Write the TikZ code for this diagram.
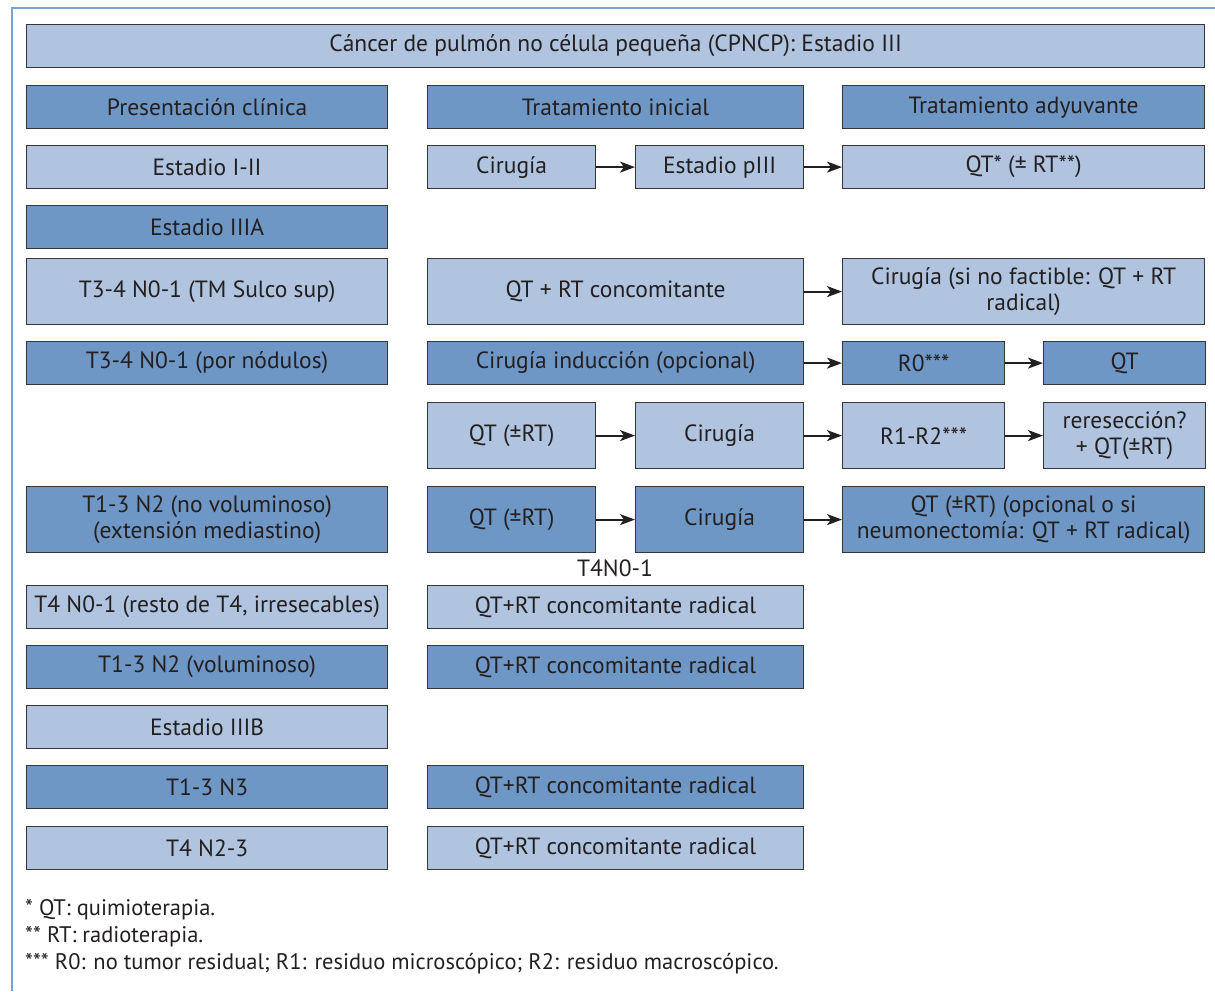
\documentclass[tikz,border=0pt]{standalone}
\usepackage{fontspec}
\setmainfont{PT Sans}
\usetikzlibrary{arrows.meta}
\definecolor{boxlite}{RGB}{176,196,224}
\definecolor{boxdark}{RGB}{111,151,198}
\definecolor{framebl}{RGB}{124,162,210}
\definecolor{ink}{RGB}{35,31,32}
\tikzset{
  cell/.style = {draw=ink!90, line width=1.2pt, anchor=north west, inner sep=0pt,
    align=center, text=ink, font=\fontsize{23.5}{26}\selectfont},
  lite/.style = {cell, fill=boxlite},
  dark/.style = {cell, fill=boxdark},
  colA/.style = {minimum width=361pt},
  colB/.style = {minimum width=376pt},
  colC/.style = {minimum width=362pt},
  halfB/.style = {minimum width=168pt},
  halfC/.style = {minimum width=162pt},
  low/.style = {minimum height=43pt},
  tall/.style = {minimum height=66pt},
  flow/.style = {-{Stealth[length=15pt, width=11pt, inset=4pt]}, line width=2pt, ink},
  note/.style = {anchor=west, inner sep=0pt, text=ink, font=\fontsize{22.5}{26}\selectfont}
}

\begin{document}
\begin{tikzpicture}[x=1pt, y=-1pt]
	\useasboundingbox (0,0) rectangle (1215,991);
	% blue frame, open to the right and bottom
	\draw[framebl, line width=2pt] (12,991) -- (12,8) -- (1215,8);

	\node (title) [lite, minimum width=1178pt, low] at (26,24) {Cáncer de pulmón no célula pequeña (CPNCP): Estadio III};

	% column heads
	\node (hdA) [dark, colA, low] at (26,85)  {Presentación clínica};
	\node (hdB) [dark, colB, low] at (427,85) {Tratamiento inicial};
	\node (hdC) [dark, colC, low] at (842,85) {Tratamiento adyuvante};

	% estadio I-II
	\node (e12)   [lite, colA, low]  at (26,145)  {Estadio I-II};
	\node (e12a)  [lite, halfB, low] at (427,145) {Cirugía};
	\node (e12b)  [lite, halfB, low] at (635,145) {Estadio pIII};
	\node (e12c)  [lite, colC, low]  at (842,145) {QT* (± RT**)};

	% estadio IIIA
	\node (e3a)   [dark, colA, low]  at (26,205)  {Estadio IIIA};

	\node (sulc)  [lite, colA, tall] at (26,258)  {T3-4 N0-1 (TM Sulco sup)};
	\node (sulcb) [lite, colB, tall] at (427,258) {QT + RT concomitante};
	\node (sulcc) [lite, colC, tall] at (842,258) {Cirugía (si no factible: QT + RT\\radical)};

	\node (nod)   [dark, colA, low]  at (26,341)  {T3-4 N0-1 (por nódulos)};
	\node (nodb)  [dark, colB, low]  at (427,341) {Cirugía inducción (opcional)};
	\node (nodr0) [dark, halfC, low] at (842,341) {R0***};
	\node (nodqt) [dark, halfC, low] at (1043,341) {QT};

	\node (alta)  [lite, halfB, tall] at (427,402)  {QT (±RT)};
	\node (altb)  [lite, halfB, tall] at (635,402)  {Cirugía};
	\node (altr)  [lite, halfC, tall] at (842,402)  {R1-R2***};
	\node (altq)  [lite, halfC, tall] at (1043,402) {reresección?\\+ QT(±RT)};

	\node (n2)    [dark, colA, tall]  at (26,486)  {T1-3 N2 (no voluminoso)\\(extensión mediastino)};
	\node (n2a)   [dark, halfB, tall] at (427,486) {QT (±RT)};
	\node (n2b)   [dark, halfB, tall] at (635,486) {Cirugía};
	\node (n2c)   [dark, colC, tall]  at (842,486) {QT (±RT) (opcional o si\\neumonectomía: QT + RT radical)};
	\node (t4lbl) [text=ink, font=\fontsize{23.5}{26}\selectfont, inner sep=0pt] at (615,568) {T4N0-1};

	\node (t4)    [lite, colA, low] at (26,585)  {T4 N0-1 (resto de T4, irresecables)};
	\node (t4b)   [lite, colB, low] at (427,585) {QT+RT concomitante radical};
	\node (vol)   [dark, colA, low] at (26,645)  {T1-3 N2 (voluminoso)};
	\node (volb)  [dark, colB, low] at (427,645) {QT+RT concomitante radical};

	% estadio IIIB
	\node (e3b)   [lite, colA, low] at (26,705)  {Estadio IIIB};
	\node (n3)    [dark, colA, low] at (26,765)  {T1-3 N3};
	\node (n3b)   [dark, colB, low] at (427,765) {QT+RT concomitante radical};
	\node (t4n)   [lite, colA, low] at (26,826)  {T4 N2-3};
	\node (t4nb)  [lite, colB, low] at (427,826) {QT+RT concomitante radical};

	% arrows
	\draw[flow] (e12a) -- (e12b);
	\draw[flow] (e12b) -- (e12c);
	\draw[flow] (sulcb) -- (sulcc);
	\draw[flow] (nodb) -- (nodr0);
	\draw[flow] (nodr0) -- (nodqt);
	\draw[flow] (alta) -- (altb);
	\draw[flow] (altb) -- (altr);
	\draw[flow] (altr) -- (altq);
	\draw[flow] (n2a) -- (n2b);
	\draw[flow] (n2b) -- (n2c);

	% footnotes
	\node (fn1) [note] at (25,910) {* QT: quimioterapia.};
	\node (fn2) [note] at (25,937) {** RT: radioterapia.};
	\node (fn3) [note] at (25,964) {*** R0: no tumor residual; R1: residuo microscópico; R2: residuo macroscópico.};
\end{tikzpicture}
\end{document}
